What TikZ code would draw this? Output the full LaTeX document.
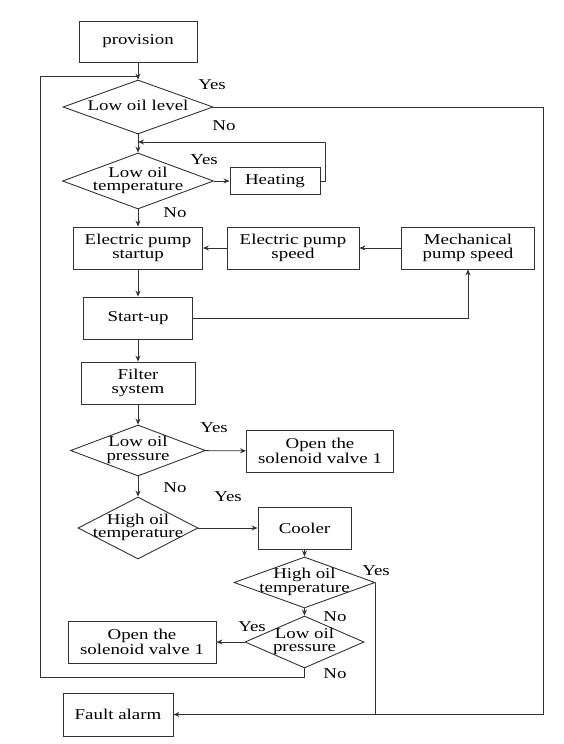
\documentclass[tikz,border=0pt]{standalone}
\usepackage{fontspec}
\setmainfont{Liberation Serif}[FakeStretch=1.26]
\usetikzlibrary{shapes.geometric,arrows.meta}
\newcommand\zt[1]{\smash{\makebox[0pt]{\raisebox{-3.6pt}{\begin{tabular}{@{}c@{}}#1\end{tabular}}}}}
\begin{document}
\begin{tikzpicture}[x=1pt,y=-1pt,
  every node/.style={font=\fontsize{15}{13.5}\selectfont, text=black},
  line/.style={draw=black!80, line width=0.9pt},
  arr/.style={line, -{Stealth[length=6pt,width=5pt]}},
  bx/.style args={#1/#2}{line, rectangle, minimum width=#1, minimum height=#2, inner sep=0pt, align=center},
  dia/.style args={#1/#2}{line, diamond, minimum width=#1, minimum height=#2, inner sep=0pt},
  lbl/.style={inner sep=0pt}]
\useasboundingbox (0,0) rectangle (564,744);
% boxes
\node[bx=118/41] (prov) at (138,41.5) {provision};
\node[dia=150/54] (d1) at (138,107) {\zt{Low oil level}};
\node[dia=151/56] (d2) at (138,181) {\zt{Low oil\\temperature}};
\node[bx=90/27] (heat) at (275,181) {Heating};
\node[bx=129/42] (eps) at (138,248) {Electric pump\\startup};
\node[bx=132/42] (eps2) at (293,248) {Electric pump\\speed};
\node[bx=133/42] (mps) at (468,248) {Mechanical\\pump speed};
\node[bx=109/42] (su) at (138,318) {Start-up};
\node[bx=114/42] (filt) at (138,383) {Filter\\system};
\node[dia=135/51] (d3) at (138,450.5) {\zt{Low oil\\pressure}};
\node[bx=147/42] (sv1) at (320,451) {Open the\\solenoid valve 1};
\node[dia=120/62] (d4) at (138,528) {\zt{High oil\\temperature}};
\node[bx=93/42] (cool) at (304.5,528) {Cooler};
\node[dia=141/51] (d5) at (304.5,582.5) {\zt{High oil\\temperature}};
\node[dia=119/52] (d6) at (304.5,642) {\zt{Low oil\\pressure}};
\node[bx=148/42] (sv2) at (142,642) {Open the\\solenoid valve 1};
\node[bx=110/43] (fault) at (118,714.5) {Fault alarm};
% coordinates
\coordinate (top) at (138,76);
\coordinate (rr) at (543,107);
\coordinate (hr) at (325,181);
\coordinate (hin) at (138,142);
\coordinate (lb) at (40,677);
% connectors
\draw[arr] (prov) -- (d1);
\draw[arr] (d1.east) -- (rr) |- (fault.east);
\draw[arr] (d1) -- (d2);
\draw[arr] (d2) -- (heat);
\draw[arr] (heat.east) -- (hr) |- (hin);
\draw[arr] (d2) -- (eps);
\draw[arr] (mps) -- (eps2);
\draw[arr] (eps2) -- (eps);
\draw[arr] (eps) -- (su);
\draw[arr] (su.east) -| (mps.south);
\draw[arr] (su) -- (filt);
\draw[arr] (filt) -- (d3);
\draw[arr] (d3) -- (sv1);
\draw[arr] (d3) -- (d4);
\draw[arr] (d4) -- (cool);
\draw[arr] (cool) -- (d5);
\draw[line] (d5.east) |- (fault.east);
\draw[arr] (d5) -- (d6);
\draw[arr] (d6) -- (sv2);
\draw[line] (d6.south) |- (lb) |- (top);
% labels
\node[lbl] (y1) at (212,85) {Yes};
\node[lbl] (n1) at (224,126) {No};
\node[lbl] (y2) at (204,160) {Yes};
\node[lbl] (n2) at (175,213) {No};
\node[lbl] (y3) at (214,428) {Yes};
\node[lbl] (n3) at (175,488) {No};
\node[lbl] (y4) at (228,497) {Yes};
\node[lbl] (y5) at (376,571) {Yes};
\node[lbl] (n5) at (335,617) {No};
\node[lbl] (y6) at (252,627) {Yes};
\node[lbl] (n6) at (335,674) {No};
\end{tikzpicture}
\end{document}
